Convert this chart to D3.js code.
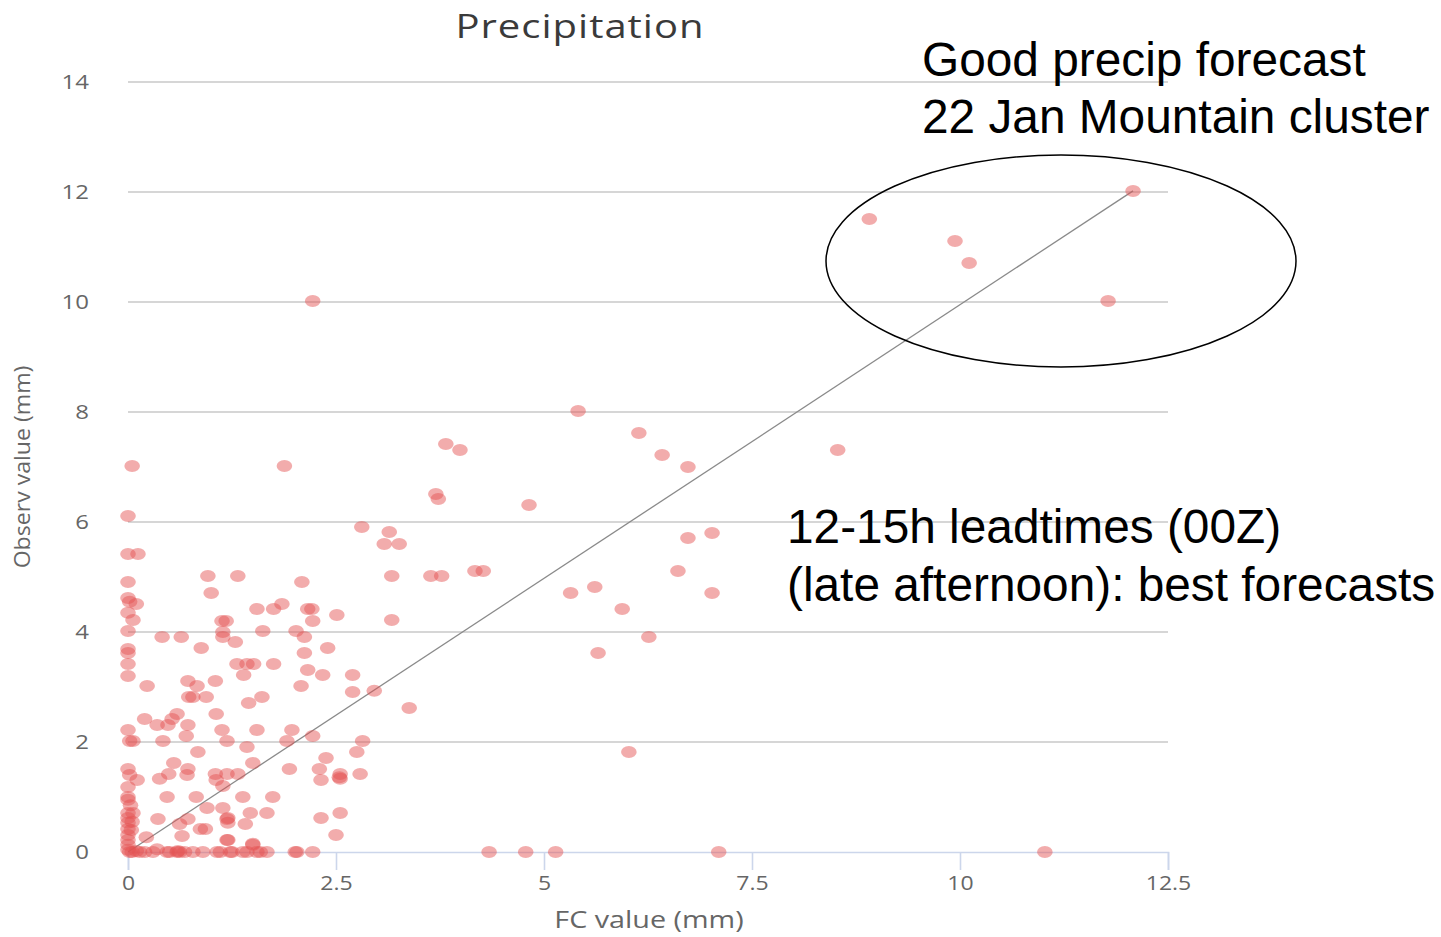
<!DOCTYPE html>
<html>
<head>
<meta charset="utf-8">
<script src="https://cdn.jsdelivr.net/npm/d3@7"></script>
<style>
  body { margin: 0; background: #fff; }
  svg { display: block; }
</style>
</head>
<body>
<div></div>
<script>
const width = 1441;
const height = 937;

// forecast (x) and observed (y) values, one pair per index
const fcValues = [
  12.08, 8.91, 9.94, 10.11, 11.78, 2.22, 5.41, 3.82, 3.99, 6.14, 6.42, 8.53, 6.73, 0.05, 1.88,
  3.70, 3.73, 4.82, 0, 2.81, 3.14, 3.08, 3.26, 6.73, 7.02, 0, 0.12, 6.61, 5.32, 5.61,
  7.02, 5.94, 6.26, 5.65, 6.02, 3.38, 2.96, 3.17, 3.64, 3.77, 4.17, 4.27, 2.09, 2.16, 2.21,
  2.22, 2.51, 3.17, 2.12, 2.40, 2.12, 2.16, 2.34, 2.70, 2.08, 2.70, 1.97, 2.22, 1.91, 2.82,
  2.75, 2.38, 1.94, 2.30, 2.55, 2.79, 2.55, 2.32, 2.55, 2.32, 2.50, 2.03, 2.22, 4.34, 4.78,
  5.14, 7.10, 11.02,
  0, 0, 0.02, 0.10, 0, 0.06, 0, 0.41, 0.64, 0.96, 1.32, 1.0, 1.13, 1.18, 1.55,
  1.75, 1.85, 1.62, 2.02, 0.88, 0, 0, 0, 0, 0.23, 0.72, 0.83, 0.73, 0.78, 0.94,
  1.05, 1.14, 1.14, 1.29, 1.31, 1.43, 1.51, 1.75, 1.39, 1.61, 1.45, 1.06, 0.59, 0.53, 0.48,
  0.35, 0.20, 0.72, 0, 0.02, 0.06, 0.42, 0.70, 1.13, 1.19, 1.55, 1.43, 0.84, 0.55, 0.72,
  0.71, 0.49, 0.38, 0, 0.02, 0.11, 0, 0, 0, 1.05, 1.19, 1.32, 1.50, 1.06, 1.14,
  0.47, 0.82, 1.38, 1.74, 0.95, 1.14, 0.36, 0.72, 1.19, 1.47, 1.67, 0.87, 0.62, 0.93, 1.41,
  0.65, 1.19, 1.50, 0.22, 0.06,
  0, 0, 0, 0, 0, 0, 0, 0, 0.04, 0.03, 0.05,
  0.14, 0.30, 0.47, 0.59, 0.78, 0.9, 1.11, 1.23, 1.43, 1.59, 1.67, 2.01, 1.07, 1.55, 0.05,
  0.2, 0.5, 0.62, 0.68, 1.25, 1.38, 0.02, 0.1,
  2.54, 1.2, 1.2, 1.2, 1.5, 0.6, 0.35
];
const obsValues = [
  12.02, 11.51, 11.11, 10.71, 10.02, 10.02, 8.02, 7.42, 7.31, 7.62, 7.22, 7.31, 7.0, 7.02, 7.02,
  6.51, 6.42, 6.31, 6.11, 5.91, 5.82, 5.6, 5.6, 5.71, 5.8, 5.42, 5.42, 5.11, 4.71, 4.82,
  4.71, 4.42, 3.91, 3.62, 1.82, 2.62, 2.93, 5.02, 5.02, 5.02, 5.11, 5.11, 4.91, 4.42, 4.42,
  4.2, 4.31, 4.22, 3.91, 3.71, 3.62, 3.31, 3.22, 3.22, 3.02, 2.91, 2.22, 2.11, 2.02, 2.02,
  1.82, 1.71, 1.51, 1.51, 1.42, 1.42, 1.33, 1.31, 0.71, 0.62, 0.31, 0, 0, 0, 0,
  0, 0, 0,
  4.91, 4.62, 4.55, 4.51, 4.35, 4.22, 4.02, 3.91, 3.91, 5.02, 5.02, 4.71, 4.2, 4.2, 4.42,
  4.42, 4.51, 4.02, 4.02, 3.71, 3.69, 3.62, 3.42, 3.2, 3.02, 3.11, 3.02, 2.82, 2.82, 2.82,
  3.11, 4.0, 3.91, 3.82, 3.42, 3.42, 3.42, 3.42, 3.22, 2.82, 2.71, 2.51, 2.51, 2.42, 2.31,
  2.31, 2.42, 2.31, 2.22, 2.02, 2.02, 2.02, 2.11, 2.22, 2.02, 2.22, 1.91, 1.82, 1.62, 1.51,
  1.40, 1.42, 1.33, 1.51, 1.40, 1.31, 1.18, 1.0, 0.95, 1.42, 1.42, 1.42, 1.62, 1.31, 1.2,
  1.0, 1.0, 1.0, 1.0, 0.8, 0.8, 0.6, 0.6, 0.6, 0.71, 0.71, 0.42, 0.51, 0.42, 0.51,
  0.29, 0.22, 0.15, 0.27, 0.71,
  0.71, 0.62, 0.53, 0.42, 0.31, 0.22, 0.13, 0.04, 0.4, 0.85, 0.55,
  0, 0, 0, 0, 0, 0, 0, 0, 0, 0, 0, 0, 0, 0, 0,
  0, 0, 0, 0, 0, 0, 0, 0.02,
  1.36, 0.62, 0.53, 0.22, 0.13, 0.02, 0.05
];

const xTicks = [0, 2.5, 5, 7.5, 10, 12.5];
const yTicks = [0, 2, 4, 6, 8, 10, 12, 14];
const diagonal = [[0, 0], [12.08, 12.02]];

const chartTitle = "Precipitation";
const xTitle = "FC value (mm)";
const yTitle = "Observ value (mm)";
const noteTop = ["Good precip forecast", "22 Jan Mountain cluster"];
const noteMid = ["12-15h leadtimes (00Z)", "(late afternoon): best forecasts"];

const plot = { left: 128, right: 1168, top: 82, bottom: 852 };
const labelFont = "'Open Sans', 'DejaVu Sans', sans-serif";
const noteFont = "'Liberation Sans', Arial, sans-serif";

const svg = d3
  .select("div")
  .append("svg")
  .attr("width", width)
  .attr("height", height);

const x = d3.scaleLinear().domain([0, 12.5]).range([plot.left, plot.right]);
const y = d3.scaleLinear().domain([0, 14]).range([plot.bottom, plot.top]);

// horizontal grid lines (no line at 0, the axis sits there)
svg
  .append("g")
  .selectAll("line")
  .data(yTicks.filter((d) => d > 0))
  .enter()
  .append("line")
  .attr("x1", plot.left)
  .attr("x2", plot.right)
  .attr("y1", (d) => y(d))
  .attr("y2", (d) => y(d))
  .attr("stroke", "#c8c8c8")
  .attr("stroke-width", 1.6);

// y axis labels (the source image is stretched sideways a bit)
svg
  .append("g")
  .selectAll("text")
  .data(yTicks)
  .enter()
  .append("text")
  .attr("transform", (d) => "translate(89," + y(d) + ") scale(1.2,1)")
  .attr("dy", "0.35em")
  .attr("text-anchor", "end")
  .attr("font-family", labelFont)
  .attr("font-size", 20)
  .attr("fill", "#666")
  .text((d) => d);

// x axis: line, ticks, labels
const xAxis = d3
  .axisBottom(x)
  .tickValues(xTicks)
  .tickSize(18)
  .tickPadding(6)
  .tickFormat((d) => d);

const gx = svg
  .append("g")
  .attr("transform", "translate(0," + plot.bottom + ")")
  .call(xAxis);
gx.select(".domain").attr("stroke", "#ccd6eb").attr("stroke-width", 1.6);
gx.selectAll(".tick line").attr("stroke", "#ccd6eb").attr("stroke-width", 1.6);
gx.selectAll(".tick text")
  .attr("font-family", labelFont)
  .attr("font-size", 20)
  .attr("transform", "scale(1.15,1)")
  .attr("x", function () {
    return 0;
  })
  .attr("fill", "#666");

// diagonal y = x line
svg
  .append("line")
  .attr("x1", x(diagonal[0][0]))
  .attr("y1", y(diagonal[0][1]))
  .attr("x2", x(diagonal[1][0]))
  .attr("y2", y(diagonal[1][1]))
  .attr("stroke", "#8a8a8a")
  .attr("stroke-width", 1.3);

// points
svg
  .append("g")
  .selectAll("ellipse")
  .data(d3.range(fcValues.length))
  .enter()
  .append("ellipse")
  .attr("cx", (i) => x(fcValues[i]))
  .attr("cy", (i) => y(obsValues[i]))
  .attr("rx", 7.8)
  .attr("ry", 6)
  .attr("fill", "rgb(228,82,82)")
  .attr("fill-opacity", 0.48);

// titles
svg
  .append("text")
  .attr("transform", "translate(580,38) scale(1.25,1)")
  .attr("text-anchor", "middle")
  .attr("font-family", labelFont)
  .attr("font-size", 32)
  .attr("letter-spacing", 0.8)
  .attr("fill", "#3a3a3a")
  .text(chartTitle);

svg
  .append("text")
  .attr("transform", "translate(649,928) scale(1.25,1)")
  .attr("text-anchor", "middle")
  .attr("font-family", labelFont)
  .attr("font-size", 23)
  .attr("fill", "#666")
  .text(xTitle);

svg
  .append("text")
  .attr("transform", "translate(30,467) rotate(-90) scale(1.1,1)")
  .attr("text-anchor", "middle")
  .attr("font-family", labelFont)
  .attr("font-size", 21)
  .attr("fill", "#666")
  .text(yTitle);

// annotations
svg
  .append("ellipse")
  .attr("cx", 1061)
  .attr("cy", 261)
  .attr("rx", 235)
  .attr("ry", 106)
  .attr("fill", "none")
  .attr("stroke", "#000")
  .attr("stroke-width", 1.5);

svg
  .append("g")
  .selectAll("text")
  .data(noteTop)
  .enter()
  .append("text")
  .attr("x", 922)
  .attr("y", (d, i) => 76 + i * 57)
  .attr("font-family", noteFont)
  .attr("font-size", 47.8)
  .attr("fill", "#000")
  .text((d) => d);

svg
  .append("g")
  .selectAll("text")
  .data(noteMid)
  .enter()
  .append("text")
  .attr("x", 787)
  .attr("y", (d, i) => 543 + i * 58)
  .attr("font-family", noteFont)
  .attr("font-size", 47.8)
  .attr("fill", "#000")
  .text((d) => d);
</script>
</body>
</html>
